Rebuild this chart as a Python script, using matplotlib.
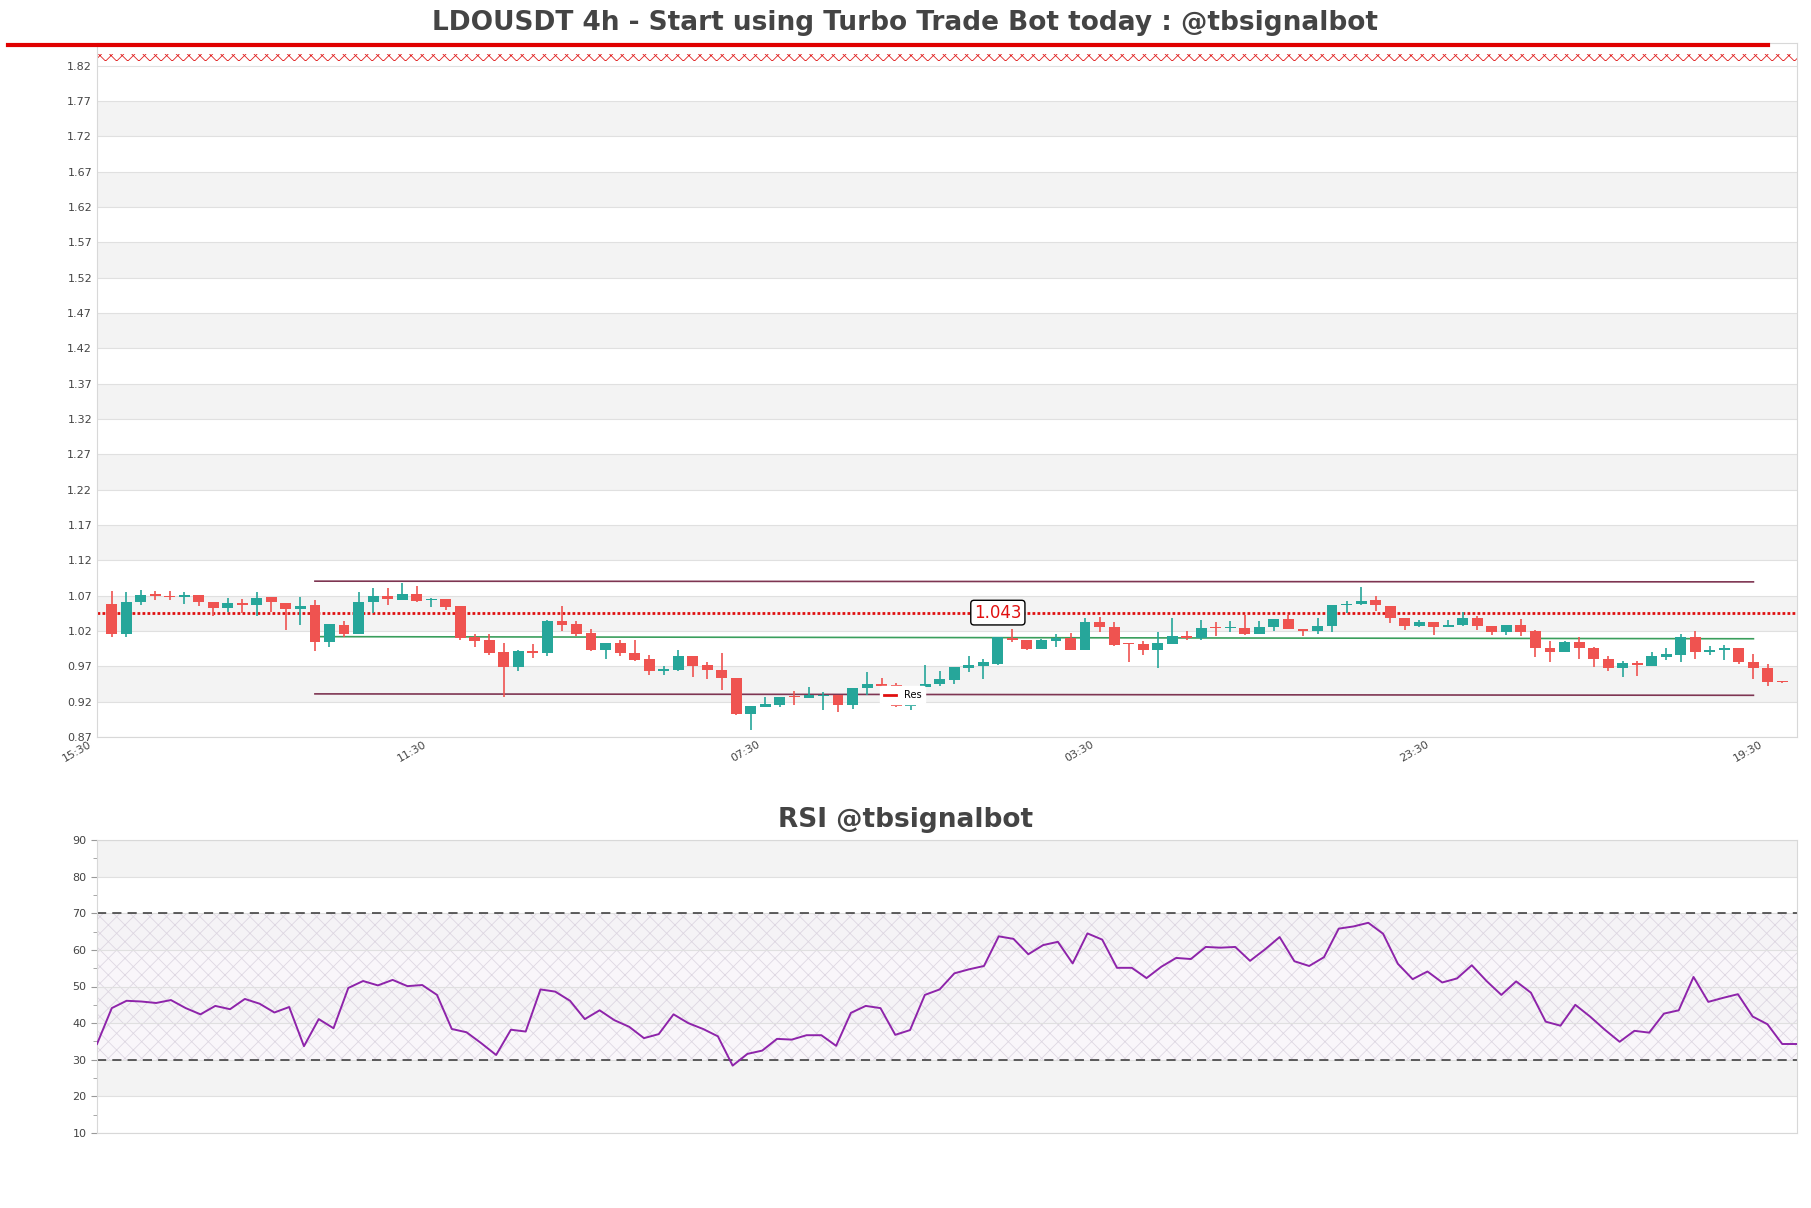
import matplotlib
matplotlib.use('Agg')
import matplotlib.pyplot as plt
import matplotlib.transforms as mtransforms
from matplotlib.lines import Line2D
import numpy as np

# candles, 4h (open, high, low, close)
opens = [1.0586, 1.0153, 1.0605, 1.0718, 1.0700, 1.0676, 1.0713, 1.0614, 1.0520, 1.0600,
         1.0563, 1.0676, 1.0600, 1.0506, 1.0572, 1.0040, 1.0290, 1.0153, 1.0605, 1.0690,
         1.0643, 1.0718, 1.0633, 1.0657, 1.0549, 1.0115, 1.0068, 0.9908, 0.9687, 0.9922,
         0.9884, 1.0346, 1.0304, 1.0176, 0.9936, 1.0035, 0.9894, 0.9809, 0.9630, 0.9654,
         0.9851, 0.9724, 0.9654, 0.9541, 0.9032, 0.9131, 0.9159, 0.9282, 0.9249, 0.9282,
         0.9300, 0.9150, 0.9390, 0.9451, 0.9437, 0.9140, 0.9409, 0.9456, 0.9513, 0.9682,
         0.9710, 0.9738, 1.0101, 1.0077, 0.9950, 1.0054, 1.0101, 0.9936, 1.0322, 1.0261,
         1.0021, 1.0021, 0.9927, 1.0021, 1.0129, 1.0096, 1.0252, 1.0238, 1.0242, 1.0153,
         1.0256, 1.0374, 1.0233, 1.0195, 1.0266, 1.0563, 1.0582, 1.0643, 1.0558, 1.0388,
         1.0266, 1.0327, 1.0252, 1.0280, 1.0384, 1.0275, 1.0181, 1.0290, 1.0195, 0.9964,
         0.9898, 1.0049, 0.9960, 0.9809, 0.9672, 0.9748, 0.9710, 0.9837, 0.9866, 1.0115,
         0.9898, 0.9927, 0.9960, 0.9767, 0.9677, 0.9484]
highs = [1.0770, 1.0756, 1.0784, 1.0765, 1.0765, 1.0750, 1.0713, 1.0614, 1.0666, 1.0652,
         1.0756, 1.0680, 1.0600, 1.0685, 1.0643, 1.0304, 1.0346, 1.0756, 1.0812, 1.0812,
         1.0883, 1.0841, 1.0666, 1.0657, 1.0549, 1.0162, 1.0162, 1.0030, 0.9936, 1.0021,
         1.0360, 1.0558, 1.0346, 1.0228, 1.0030, 1.0077, 1.0068, 0.9856, 0.9710, 0.9936,
         0.9851, 0.9767, 0.9889, 0.9541, 0.9145, 0.9272, 0.9272, 0.9348, 0.9414, 0.9333,
         0.9300, 0.9400, 0.9626, 0.9541, 0.9465, 0.9410, 0.9719, 0.9640, 0.9687, 0.9851,
         0.9809, 1.0115, 1.0233, 1.0077, 1.0087, 1.0162, 1.0172, 1.0388, 1.0402, 1.0322,
         1.0030, 1.0063, 1.0186, 1.0384, 1.0195, 1.0355, 1.0322, 1.0346, 1.0420, 1.0346,
         1.0374, 1.0420, 1.0233, 1.0384, 1.0563, 1.0628, 1.0822, 1.0700, 1.0558, 1.0388,
         1.0360, 1.0327, 1.0360, 1.0464, 1.0407, 1.0275, 1.0290, 1.0370, 1.0219, 1.0063,
         1.0063, 1.0115, 0.9974, 0.9842, 0.9771, 0.9771, 0.9899, 0.9960, 1.0162, 1.0205,
         0.9993, 1.0007, 0.9960, 0.9875, 0.9729, 0.9490]
lows = [1.0110, 1.0110, 1.0572, 1.0643, 1.0633, 1.0577, 1.0549, 1.0407, 1.0468, 1.0454,
        1.0407, 1.0464, 1.0219, 1.0290, 0.9913, 0.9969, 1.0120, 1.0153, 1.0454, 1.0572,
        1.0643, 1.0605, 1.0534, 1.0501, 1.0078, 0.9979, 0.9866, 0.9263, 0.9640, 0.9818,
        0.9851, 1.0195, 1.0129, 0.9913, 0.9800, 0.9842, 0.9771, 0.9583, 0.9583, 0.9630,
        0.9545, 0.9522, 0.9362, 0.9013, 0.8806, 0.9131, 0.9126, 0.9150, 0.9249, 0.9079,
        0.9051, 0.9098, 0.9300, 0.9400, 0.9120, 0.9088, 0.9400, 0.9418, 0.9447, 0.9626,
        0.9522, 0.9724, 1.0044, 0.9927, 0.9950, 0.9969, 0.9936, 0.9927, 1.0181, 0.9983,
        0.9757, 0.9856, 0.9677, 1.0021, 1.0077, 1.0077, 1.0125, 1.0181, 1.0143, 1.0153,
        1.0195, 1.0224, 1.0125, 1.0162, 1.0181, 1.0454, 1.0572, 1.0487, 1.0313, 1.0209,
        1.0252, 1.0139, 1.0252, 1.0266, 1.0219, 1.0148, 1.0139, 1.0134, 0.9828, 0.9757,
        0.9898, 0.9804, 0.9687, 0.9630, 0.9545, 0.9560, 0.9710, 0.9795, 0.9757, 0.9809,
        0.9856, 0.9795, 0.9738, 0.9522, 0.9418, 0.9470]
closes = [1.0153, 1.0614, 1.0713, 1.0695, 1.0676, 1.0713, 1.0605, 1.0520, 1.0600, 1.0563,
          1.0671, 1.0605, 1.0506, 1.0558, 1.0040, 1.0304, 1.0153, 1.0614, 1.0700, 1.0647,
          1.0718, 1.0629, 1.0657, 1.0539, 1.0101, 1.0054, 0.9894, 0.9687, 0.9922, 0.9889,
          1.0346, 1.0290, 1.0162, 0.9936, 1.0030, 0.9884, 0.9795, 0.9630, 0.9668, 0.9851,
          0.9710, 0.9644, 0.9531, 0.9032, 0.9145, 0.9173, 0.9272, 0.9263, 0.9291, 0.9291,
          0.9150, 0.9400, 0.9451, 0.9428, 0.9145, 0.9400, 0.9451, 0.9527, 0.9687, 0.9720,
          0.9757, 1.0110, 1.0068, 0.9950, 1.0077, 1.0101, 0.9936, 1.0322, 1.0252, 1.0007,
          1.0011, 0.9927, 1.0030, 1.0134, 1.0096, 1.0247, 1.0238, 1.0252, 1.0153, 1.0256,
          1.0374, 1.0224, 1.0200, 1.0275, 1.0563, 1.0586, 1.0624, 1.0563, 1.0379, 1.0266,
          1.0327, 1.0252, 1.0290, 1.0384, 1.0266, 1.0181, 1.0290, 1.0181, 0.9955, 0.9898,
          1.0049, 0.9955, 0.9800, 0.9672, 0.9748, 0.9720, 0.9847, 0.9875, 1.0115, 0.9898,
          0.9936, 0.9964, 0.9757, 0.9672, 0.9479, 0.9475]

rsi = [34.3, 44.1, 46.1, 45.9, 45.5, 46.3, 44.1, 42.4, 44.7, 43.8,
       46.6, 45.3, 42.9, 44.4, 33.7, 41.1, 38.6, 49.6, 51.5, 50.3,
       51.8, 50.1, 50.4, 47.7, 38.4, 37.5, 34.5, 31.3, 38.2, 37.7,
       49.2, 48.6, 46.1, 41.1, 43.5, 40.8, 39.0, 35.9, 37.0, 42.4,
       40.0, 38.4, 36.4, 28.4, 31.6, 32.5, 35.7, 35.5, 36.7, 36.7,
       33.8, 42.8, 44.7, 44.1, 36.8, 38.1, 47.7, 49.2, 53.6, 54.7,
       55.6, 63.7, 63.0, 58.8, 61.3, 62.2, 56.3, 64.5, 62.8, 55.1,
       55.1, 52.3, 55.4, 57.8, 57.5, 60.8, 60.6, 60.8, 57.0, 60.1,
       63.5, 56.9, 55.6, 58.0, 65.8, 66.4, 67.4, 64.4, 56.2, 52.0,
       54.1, 51.1, 52.2, 55.8, 51.5, 47.7, 51.4, 48.3, 40.4, 39.3,
       45.0, 41.8, 38.2, 34.9, 37.9, 37.4, 42.6, 43.5, 52.6, 45.8,
       46.9, 47.9, 41.8, 39.7, 34.3, 34.3]

tick_idx = [0, 23, 46, 69, 92, 115]
tick_labels = ['15:30', '11:30', '07:30', '03:30', '23:30', '19:30']
price_ticks = [0.87, 0.92, 0.97, 1.02, 1.07, 1.12, 1.17, 1.22, 1.27, 1.32,
               1.37, 1.42, 1.47, 1.52, 1.57, 1.62, 1.67, 1.72, 1.77, 1.82]
rsi_ticks = [10, 20, 30, 40, 50, 60, 70, 80, 90]

res_level = 1.043
upper_line = [(14, 1.0905), (113, 1.0895)]
lower_line = [(14, 0.9310), (113, 0.9290)]
mid_line = [(14, 1.0120), (113, 1.0090)]

green = '#26a69a'
red = '#ef5350'
band = '#f3f3f3'
grid_c = '#e0e0e0'
txt_c = '#444444'

plt.rcParams['hatch.linewidth'] = 0.6

fig = plt.figure(figsize=(18.11, 12.08), dpi=100)
ax = fig.add_axes([97/1811, 1-737/1208, 1700/1811, 694/1208])
ax2 = fig.add_axes([97/1811, 1-1133/1208, 1700/1811, 293/1208])

# price panel
n = len(opens)
x = np.arange(n)
ax.set_xlim(-1, n)
ax.set_ylim(0.87, 1.852)
for i in range(1, len(price_ticks) - 1, 2):
    ax.axhspan(price_ticks[i], price_ticks[i+1], color=band, zorder=0, lw=0)
ax.set_yticks(price_ticks)
ax.set_yticklabels(['%.2f' % t for t in price_ticks])
ax.grid(axis='y', color=grid_c, lw=0.8, zorder=0.5)
ax.set_axisbelow(True)

ax.axhspan(1.826, 1.836, facecolor='none', edgecolor='#e02020', hatch='xxx', lw=0, zorder=1)

o = np.array(opens); c = np.array(closes)
cols = [green if cc >= oo else red for oo, cc in zip(o, c)]
ax.vlines(x, lows, highs, colors=cols, lw=1.2, zorder=3)
body_h = np.maximum(np.abs(c - o), 0.0015)
ax.bar(x, body_h, bottom=np.minimum(o, c), width=0.75, color=cols, zorder=4)

ax.plot([p[0] for p in upper_line], [p[1] for p in upper_line], color='#7e3552', lw=1.2, zorder=2)
ax.plot([p[0] for p in lower_line], [p[1] for p in lower_line], color='#7e3552', lw=1.2, zorder=2)
ax.plot([p[0] for p in mid_line], [p[1] for p in mid_line], color='#3a9e5c', lw=1.2, zorder=2)

ax.axhline(res_level + 0.002, color='#e01010', lw=2, ls=(0, (1, 0.8)), zorder=2)
ax.text(61, res_level + 0.003, '%.3f' % res_level, color='#e01010', fontsize=12, ha='center', va='center',
        bbox=dict(boxstyle='round,pad=0.2', fc='white', ec='black', lw=1), zorder=6)

leg_handle = Line2D([], [], color='#e01010', lw=2)
leg = ax.legend([leg_handle], ['Res'], loc='center', bbox_to_anchor=(0.474, 0.06),
                fontsize=7, frameon=True, framealpha=1, handlelength=1.2)
leg.get_frame().set_edgecolor('white')
leg.set_zorder(7)

# time labels, drawn as text so they can sit a bit left of the candle
ax.set_xticks([])
lab_trans = ax.get_xaxis_transform() + mtransforms.ScaledTranslation(-0.18, -0.02, fig.dpi_scale_trans)
for ti, tl in zip(tick_idx, tick_labels):
    ax.text(ti, 0, tl, transform=lab_trans, rotation=30, ha='right', va='top',
            fontsize=8, color=txt_c, clip_on=False)
ax.tick_params(axis='y', labelsize=8, labelcolor=txt_c, length=0)
for s in ax.spines.values():
    s.set_color('#d8d8d8')

fig.add_artist(Line2D([8/1811, 1768/1811], [1-45/1208, 1-45/1208], color='#e00000', lw=3))

fig.text(0.5, 1-23/1208, 'LDOUSDT 4h - Start using Turbo Trade Bot today : @tbsignalbot',
         ha='center', va='center', fontsize=19, fontweight='bold', color=txt_c)

# RSI panel
xr = np.arange(len(rsi))
ax2.set_xlim(0, len(rsi) - 1)
ax2.set_ylim(10, 90)
for i in range(1, len(rsi_ticks) - 1, 2):
    ax2.axhspan(rsi_ticks[i], rsi_ticks[i+1], color=band, zorder=0, lw=0)
ax2.axhspan(30, 70, facecolor='#f7f3f8', edgecolor='#d3cbd9', hatch='xx', lw=0, alpha=0.7, zorder=0.3)
ax2.set_yticks(rsi_ticks)
ax2.set_yticks(np.arange(15, 90, 10), minor=True)
ax2.grid(axis='y', color=grid_c, lw=0.8, zorder=0.5)
ax2.axhline(70, color='#333333', lw=1.1, ls=(0, (6, 4)), zorder=2)
ax2.axhline(30, color='#333333', lw=1.1, ls=(0, (6, 4)), zorder=2)
ax2.plot(xr, rsi, color='#8e24aa', lw=1.4, zorder=3)
ax2.set_xticks([])
ax2.tick_params(axis='y', labelsize=8, labelcolor=txt_c, color='#999999', length=4)
ax2.tick_params(axis='y', which='minor', color='#999999', length=3)
for s in ax2.spines.values():
    s.set_color('#d8d8d8')

fig.text(0.5, 1-820/1208, 'RSI @tbsignalbot', ha='center', va='center',
         fontsize=19, fontweight='bold', color=txt_c)

fig.savefig('out.png', dpi=100)
